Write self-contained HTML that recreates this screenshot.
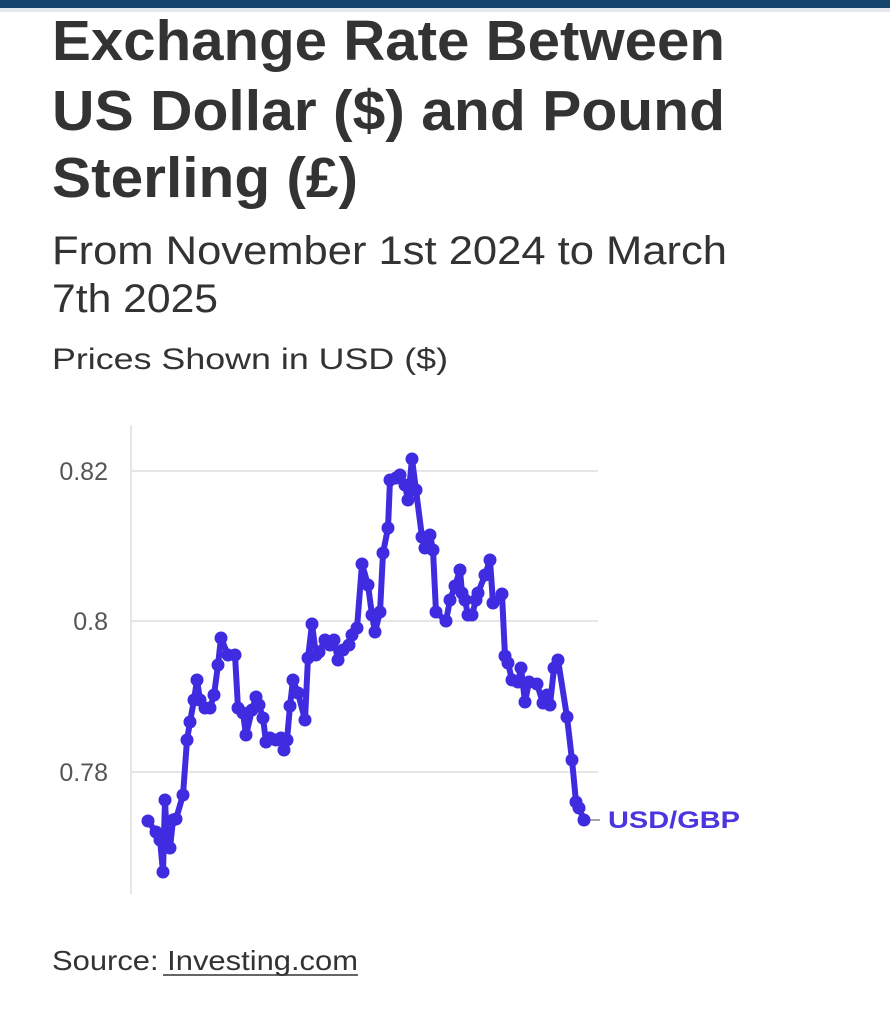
<!DOCTYPE html>
<html><head><meta charset="utf-8"><style>
html,body{margin:0;padding:0;background:#fff;}
svg{display:block;}
</style></head><body>
<svg width="890" height="1024" xmlns="http://www.w3.org/2000/svg" font-family="Liberation Sans, sans-serif">
<rect x="0" y="0" width="890" height="8" fill="#15456e"/>
<rect x="0" y="8" width="890" height="4" fill="#e4e8ec"/>
<g fill="#333" font-weight="bold" font-size="57">
<text x="52" y="60" textLength="673" lengthAdjust="spacingAndGlyphs">Exchange Rate Between</text>
<text x="52" y="130" textLength="673" lengthAdjust="spacingAndGlyphs">US Dollar ($) and Pound</text>
<text x="52" y="197" textLength="306" lengthAdjust="spacingAndGlyphs">Sterling (£)</text>
</g>
<g fill="#333" font-size="40">
<text x="52" y="264" textLength="675" lengthAdjust="spacingAndGlyphs">From November 1st 2024 to March</text>
<text x="52" y="312" textLength="166" lengthAdjust="spacingAndGlyphs">7th 2025</text>
</g>
<text x="52" y="369" font-size="30" fill="#333" textLength="396" lengthAdjust="spacingAndGlyphs">Prices Shown in USD ($)</text>
<line x1="131" y1="425" x2="131" y2="894" stroke="#e6e6e6" stroke-width="2"/>
<g stroke="#e6e6e6" stroke-width="2">
<line x1="132" y1="471" x2="598" y2="471"/>
<line x1="132" y1="621" x2="598" y2="621"/>
<line x1="132" y1="772" x2="598" y2="772"/>
</g>
<g fill="#555" font-size="25" text-anchor="end">
<text x="108" y="480">0.82</text>
<text x="108" y="630">0.8</text>
<text x="108" y="781">0.78</text>
</g>
<line x1="586" y1="820" x2="600" y2="820" stroke="#888" stroke-width="1.5"/>
<text x="608" y="828" font-size="24" font-weight="bold" fill="#4a35e0" textLength="132" lengthAdjust="spacingAndGlyphs">USD/GBP</text>
<polyline id="p" fill="none" stroke="#3f2be0" stroke-width="6" stroke-linejoin="round" points="148,821 156,832 160,840 163,872 165,800 167,845 170,848 173,820 176,819 183,795 187,740 190,722 194,700 197,680 200,700 205,708 210,708 214,695 218,665 221,638 228,655 235,655 238,708 243,713 246,735 252,710 256,697 259,705 263,718 266,742 270,738 276,740 281,738 284,750 287,740 290,706 293,680 298,693 305,720 308,658 312,624 316,655 319,652 325,640 330,645 334,640 338,660 343,650 349,645 352,635 357,628 362,564 368,585 372,615 375,632 380,612 383,553 388,528 390,480 396,478 400,475 405,485 408,500 412,459 416,490 422,537 425,548 430,535 433,550 436,612 446,621 450,600 455,586 460,570 462,593 465,600 468,615 472,615 476,600 478,593 485,575 490,560 493,603 502,594 505,656 508,663 512,680 518,682 521,668 525,702 529,682 537,684 543,703 547,695 550,705 554,668 558,660 567,717 572,760 576,802 579,808 584,820"/>
<g fill="#3f2be0" id="dots"></g>
<text x="52" y="970" font-size="28" fill="#333" textLength="306" lengthAdjust="spacingAndGlyphs">Source: Investing.com</text>
<line x1="163" y1="975" x2="358" y2="975" stroke="#333" stroke-width="1.5"/>
<script>
var pts=document.getElementById('p').getAttribute('points').trim().split(/\s+/);
var g=document.getElementById('dots');
pts.forEach(function(s){var a=s.split(',');var c=document.createElementNS('http://www.w3.org/2000/svg','circle');c.setAttribute('cx',a[0]);c.setAttribute('cy',a[1]);c.setAttribute('r','6.5');g.appendChild(c);});
</script>
</svg>
</body></html>
